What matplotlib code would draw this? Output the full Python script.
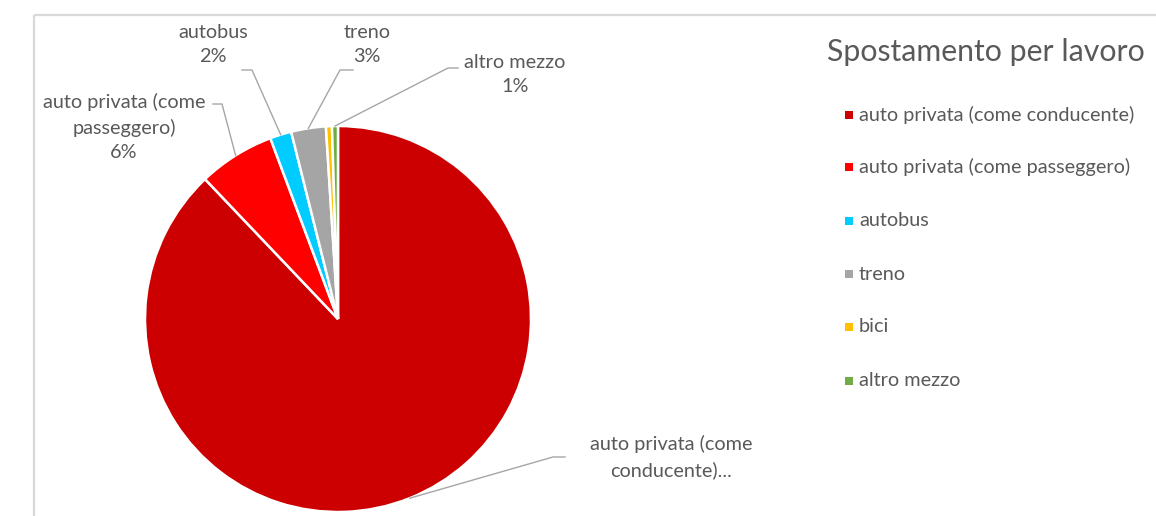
import matplotlib
matplotlib.use("Agg")
import matplotlib.pyplot as plt
import numpy as np

categories = ["auto privata (come conducente)", "auto privata (come passeggero)",
              "autobus", "treno", "bici", "altro mezzo"]
values = [87.9, 6.4, 1.8, 2.9, 0.5, 0.5]
colors = ["#CC0000", "#FF0000", "#00CCFF", "#A5A5A5", "#FFC000", "#70AD47"]
label_texts = ["auto privata (come\nconducente)...", "auto privata (come\npasseggero)\n6%",
               "autobus\n2%", "treno\n3%", None, "altro mezzo\n1%"]

plt.rcParams['font.family'] = ['Lato', 'DejaVu Sans']
W, H = 1156, 516
fig = plt.figure(figsize=(W / 100, H / 100), dpi=100)
ax = fig.add_axes([0, 0, 1, 1])

def Y(py):
    return H - py

cx, cy, r = 338, Y(319), 193
wedges, _ = ax.pie(values, colors=colors, startangle=90, counterclock=False,
                   center=(cx, cy), radius=r, frame=True,
                   wedgeprops=dict(edgecolor="white", linewidth=1.8))
ax.set_xlim(0, W)
ax.set_ylim(0, H)
ax.set_aspect('equal')
ax.axis('off')

# frame lines
ax.plot([33.5, W], [Y(14.5), Y(14.5)], color="#D9D9D9", lw=1.6, solid_capstyle='butt')
ax.plot([33.5, 33.5], [Y(14.5), 0], color="#D9D9D9", lw=1.6, solid_capstyle='butt')

txt_color = "#595959"
line_color = "#A6A6A6"
FS = 14.3
label_pos = [(671, 457), (124, 127), (213, 44), (367, 44), None, (515, 75)]
elbows = [[(565, 457), (553, 457)], [(213, 104), (222, 104)], [(242, 70), (252, 70)],
          [(353, 70), (340, 70)], None, [(458, 68), (448, 68)]]
for i, w in enumerate(wedges):
    if label_texts[i] is None:
        continue
    lx, ly = label_pos[i]
    ax.text(lx, Y(ly), label_texts[i], ha='center', va='center', fontsize=FS,
            color=txt_color, linespacing=1.5)
    ang = np.deg2rad((w.theta1 + w.theta2) / 2)
    ex, ey = cx + r * np.cos(ang), cy + r * np.sin(ang)
    pts = elbows[i]
    xs = [p[0] for p in pts] + [ex]
    ys = [Y(p[1]) for p in pts] + [ey]
    ax.plot(xs, ys, color=line_color, lw=1.0)

ax.text(986, Y(52), "Spostamento per lavoro", ha='center', va='center',
        fontsize=21.8, color=txt_color)

leg_y = [115, 167, 221, 274, 327, 381]
for c, name, yy in zip(colors, categories, leg_y):
    ax.scatter([849], [Y(yy)], marker='s', s=30, color=c, linewidths=0)
    ax.text(859, Y(yy), name, ha='left', va='center', fontsize=FS, color=txt_color)

fig.savefig("out.png", dpi=100)
